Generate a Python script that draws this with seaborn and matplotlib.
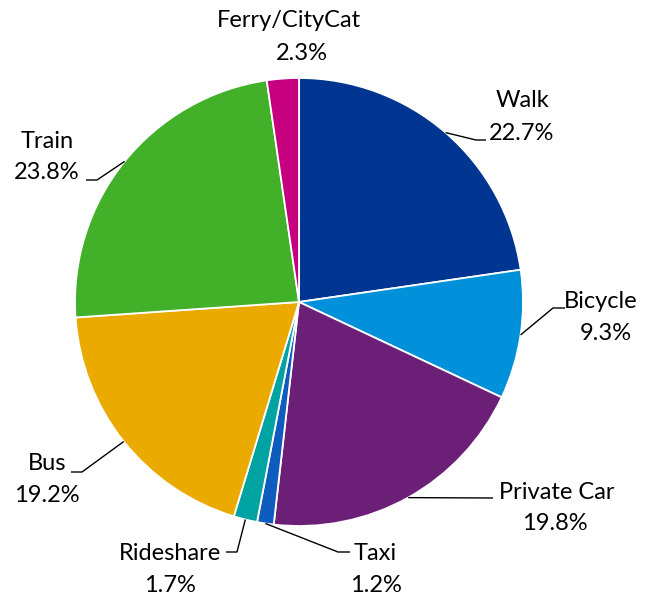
import numpy as np
import matplotlib
matplotlib.use("Agg")
import matplotlib.pyplot as plt
import seaborn as sns

# Mode share data (percent), clockwise from 12 o'clock
modes = ["Walk", "Bicycle", "Private Car", "Taxi", "Rideshare", "Bus", "Train", "Ferry/CityCat"]
shares = [22.7, 9.3, 19.8, 1.2, 1.7, 19.2, 23.8, 2.3]
colors = ["#003591", "#0091DA", "#6C1F76", "#0F5CBF", "#00A3A1", "#EAAA00", "#43B02A", "#C6007E"]

sns.set_theme(style="white")
plt.rcParams["font.family"] = ["Lato", "DejaVu Sans"]

W, H = 645, 595
fig = plt.figure(figsize=(W / 100, H / 100), dpi=100)
ax = fig.add_axes([0, 0, 1, 1])
ax.set_xlim(0, W)
ax.set_ylim(0, H)
ax.set_aspect("equal")
ax.axis("off")

def fy(y):
    return H - y

cx, cy, r = 299, fy(302), 224
palette = sns.color_palette(colors)
wedges, _ = ax.pie(shares, colors=palette, startangle=90, counterclock=False,
                   center=(cx, cy), radius=r,
                   wedgeprops=dict(edgecolor="white", linewidth=1.3))
ax.set_xlim(0, W)
ax.set_ylim(0, H)

# label layout: (name line baseline x, y), (value line x, y), leader path after the edge point
layout = {
    "Walk":          ((523, 107), (522, 140), [(476, 140), (486, 140)]),
    "Bicycle":       ((601, 308), (606, 340), [(553, 308), (565, 308)]),
    "Private Car":   ((557, 499), (555, 530), [(493, 498)]),
    "Taxi":          ((375, 560), (376, 592), [(338, 552), (350, 552)]),
    "Rideshare":     ((170, 560), (170, 592), [(237, 552), (226, 552)]),
    "Bus":           ((47, 470), (47, 502), [(82, 472), (71, 472)]),
    "Train":         ((47, 148), (47, 179), [(97, 180), (86, 180)]),
    "Ferry/CityCat": ((289, 27), (302, 60), None),
}

fs = 17
for w, name, val in zip(wedges, modes, shares):
    (nx, ny), (vx, vy), path = layout[name]
    ax.text(nx, fy(ny), name, ha="center", va="baseline", fontsize=fs, color="black")
    ax.text(vx, fy(vy), f"{val:.1f}%", ha="center", va="baseline", fontsize=fs, color="black")
    if path:
        mid = np.deg2rad((w.theta1 + w.theta2) / 2)
        xs = [cx + r * np.cos(mid)] + [p[0] for p in path]
        ys = [cy + r * np.sin(mid)] + [fy(p[1]) for p in path]
        ax.plot(xs, ys, color="black", lw=1.0, solid_capstyle="butt")

fig.savefig("out.png", dpi=100)
